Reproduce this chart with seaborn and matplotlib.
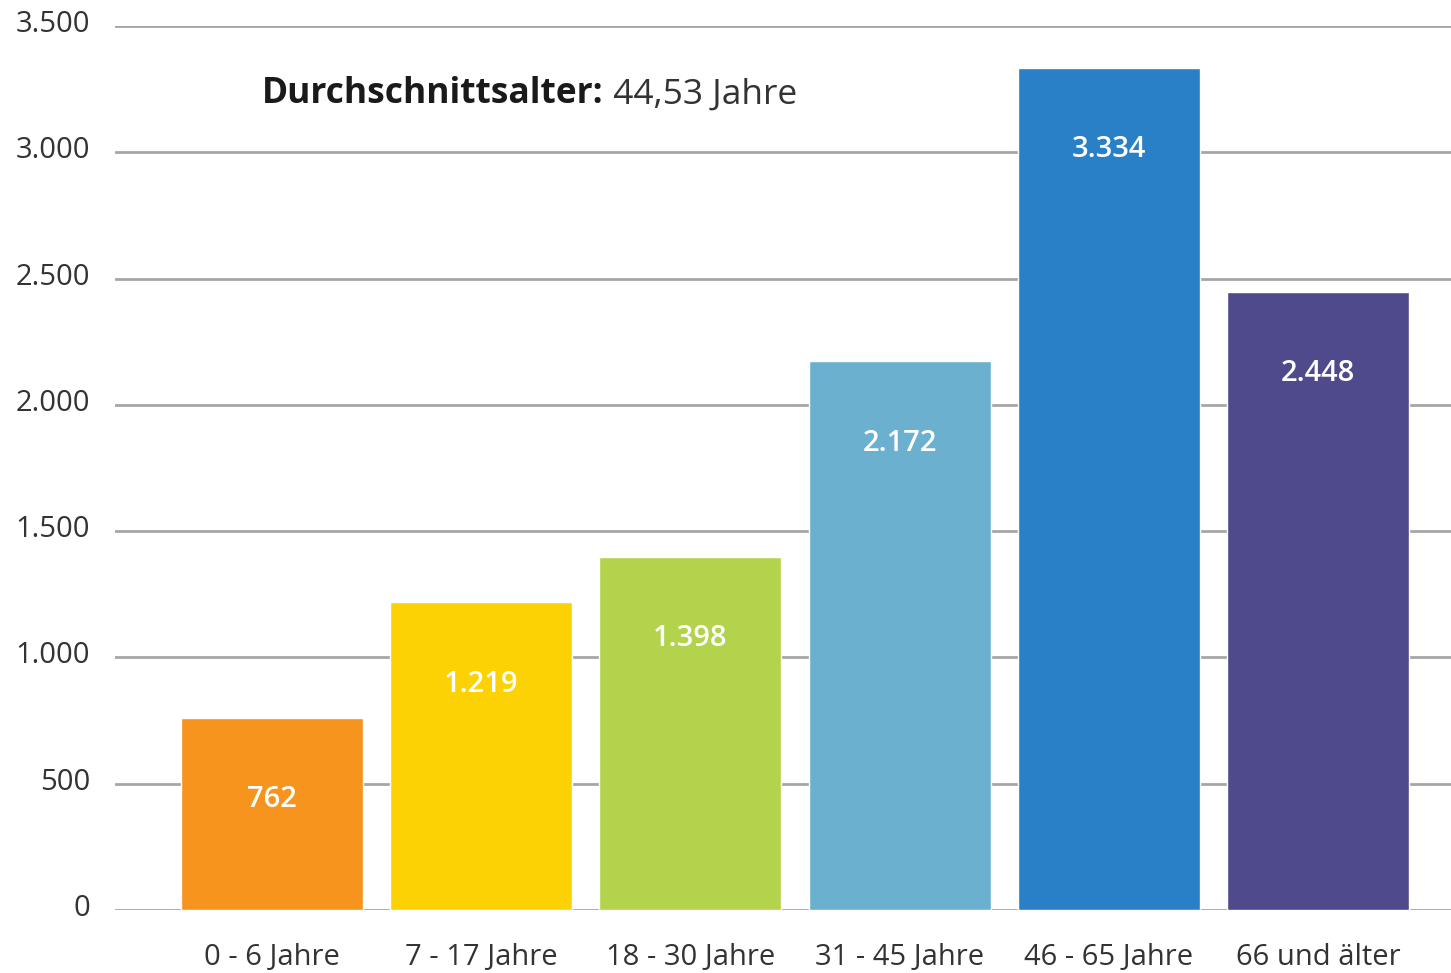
import seaborn as sns
import matplotlib.pyplot as plt
import matplotlib.transforms as mtransforms

categories = ['0 - 6 Jahre', '7 - 17 Jahre', '18 - 30 Jahre', '31 - 45 Jahre', '46 - 65 Jahre', '66 und älter']
values = [762, 1219, 1398, 2172, 3334, 2448]
colors = ['#F7941E', '#FDD205', '#B2D34B', '#6CB0D0', '#2A80C6', '#4F4A8B']
yticks = [0, 500, 1000, 1500, 2000, 2500, 3000, 3500]
ytick_labels = ['0', '500', '1.000', '1.500', '2.000', '2.500', '3.000', '3.500']
value_labels = ['762', '1.219', '1.398', '2.172', '3.334', '2.448']

sns.set_style('white')
plt.rcParams['font.family'] = ['Open Sans', 'DejaVu Sans']

fig = plt.figure(figsize=(14.51, 9.73), dpi=100)
ax = fig.add_axes([115 / 1451, 1 - 910 / 973, 1 - 115 / 1451, (910 - 26) / 973])

sns.barplot(x=categories, y=values, hue=categories, palette=colors, legend=False,
            width=0.87, saturation=1, ax=ax, zorder=3)

ax.set_ylim(0, 3500)
ax.set_xlim(-0.75, 5.636)
ax.set_yticks(yticks)
ax.set_yticklabels(ytick_labels)
ax.yaxis.grid(True, color='#a6a6a6', linewidth=2, zorder=0)
ax.set_axisbelow(True)
for s in ax.spines.values():
    s.set_visible(False)
ax.tick_params(axis='both', length=0, labelsize=21, labelcolor='#333333')
ax.tick_params(axis='y', pad=18)
ax.tick_params(axis='x', pad=24)
ax.set_xlabel('')
ax.set_ylabel('')

# y labels sit a bit above their gridlines
shift = mtransforms.ScaledTranslation(0, 0.05, fig.dpi_scale_trans)
for lab in ax.get_yticklabels():
    lab.set_transform(lab.get_transform() + shift)

for i, (v, lab) in enumerate(zip(values, value_labels)):
    ax.annotate(lab, xy=(i, v), xytext=(0, -59), textcoords='offset points',
                ha='center', va='center', color='white', fontsize=21, fontweight='semibold')

t1 = fig.text(262 / 1451, 1 - 103 / 973, 'Durchschnittsalter:', fontsize=25.5,
              fontweight='bold', color='#1a1a1a', va='baseline')
ax.annotate(' 44,53 Jahre', xy=(1, 0), xycoords=t1, va='bottom', ha='left',
            fontsize=25.5, color='#333333')

fig.savefig('out.png', dpi=100)
